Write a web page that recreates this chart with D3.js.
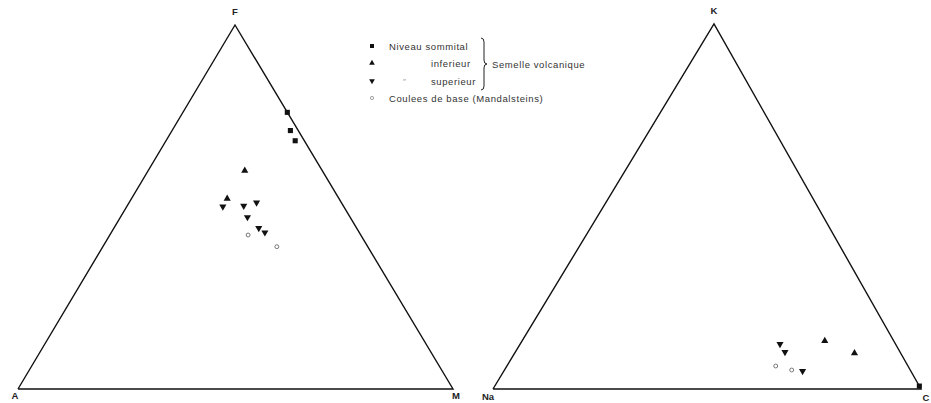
<!DOCTYPE html>
<html><head><meta charset="utf-8">
<script src="https://cdn.jsdelivr.net/npm/d3@7"></script>
<style>body{margin:0;background:#fff}svg{display:block}text{font-family:"Liberation Sans",Arial,sans-serif}</style>
</head><body><svg id="c" width="931" height="403"></svg>
<script>
// Left triangle A-F-M (percent): [A, F, M]
const afmCorners = ["A","M","F"];
const afmSommital = [[0,76,24],[1.8,71,27.2],[2.1,68.2,29.7]];
const afmInferieur = [[17.8,60,22.2],[25.7,52.3,22]];
const afmSuperieur = [[27.8,50.1,22.1],[22.9,50.3,26.8],[19.5,51.2,29.3],[23.6,47.2,29.2],[22.5,44.2,33.3],[21.7,43,35.3]];
const afmCoulees = [[20.9,39.1,40],[25.9,42.3,31.8]];
// Right triangle Na-K-C (percent): [Na, K, C]
const nkcCorners = ["Na","C","K"];
const nkcSommital = [[0,0.8,99.2]];
const nkcInferieur = [[16.1,13.2,70.7],[10.8,9.8,79.4]];
const nkcSuperieur = [[27,12.3,60.7],[26.9,10.1,63],[25.3,4.9,69.8]];
const nkcCoulees = [[30.9,6.3,62.8],[27.7,5.2,67.1]];
// Legend
const legendLabels = ["Niveau sommital","inferieur","superieur","Coulees de base (Mandalsteins)"];
const groupLabel = "Semelle volcanique";

const svg = d3.select("#c");

function ternary(cfg){
  const xs = d3.scaleLinear().domain([0,1]).range([cfg.x0,cfg.x1]);
  const ys = d3.scaleLinear().domain([0,1]).range([cfg.yBase,cfg.yApex]);
  const proj = d => { const s=d[0]+d[1]+d[2]; const top=d[1]/s, right=d[2]/s; return [xs(right+top*cfg.apexU), ys(top)]; };
  const g = svg.append("g");
  const corners = [[100,0,0],[0,0,100],[0,100,0]];
  g.append("path").attr("d", d3.line()(corners.map(proj).concat([proj(corners[0])])))
    .attr("fill","none").attr("stroke","#111").attr("stroke-width",1.4);
  const lp = corners.map(proj);
  lp.forEach((p,i)=>{
    g.append("text").attr("x",p[0]+cfg.lo[i][0]).attr("y",p[1]+cfg.lo[i][1]).text(cfg.names[i])
      .attr("text-anchor","middle").attr("font-size",9.5).attr("font-weight","bold").attr("fill","#222");
  });
  const sym = (data, type, size, style) => {
    g.selectAll(null).data(data).join("path")
      .attr("transform", d => { const p=proj(d); return `translate(${p[0]},${p[1]})` + (type==="down"?" rotate(180)":""); })
      .attr("d", d3.symbol().type(type==="square"?d3.symbolSquare:type==="circle"?d3.symbolCircle:d3.symbolTriangle).size(size))
      .attr("fill", style.fill).attr("stroke", style.stroke||"none").attr("stroke-width", style.sw||0);
  };
  sym(cfg.sommital,"square",26,{fill:"#111"});
  sym(cfg.inferieur,"up",22,{fill:"#111"});
  sym(cfg.superieur,"down",22,{fill:"#111"});
  sym(cfg.coulees,"circle",12,{fill:"none",stroke:"#777",sw:1});
}

ternary({x0:18,x1:453,apexU:(235-18)/435,yBase:389,yApex:25,names:afmCorners,
  lo:[[-3,10],[3,10],[0,-10]],
  sommital:afmSommital,inferieur:afmInferieur,superieur:afmSuperieur,coulees:afmCoulees});
ternary({x0:493,x1:921,apexU:(714-493)/428,yBase:389,yApex:24,names:nkcCorners,
  lo:[[-5,11],[5,12],[0,-10]],
  sommital:nkcSommital,inferieur:nkcInferieur,superieur:nkcSuperieur,coulees:nkcCoulees});

// legend
const lg = svg.append("g");
const rowY = [46,63,81,98];
const lx = 372;
lg.append("path").attr("transform",`translate(${lx},${rowY[0]})`).attr("d",d3.symbol().type(d3.symbolSquare).size(16)).attr("fill","#111");
lg.append("path").attr("transform",`translate(${lx},${rowY[1]})`).attr("d",d3.symbol().type(d3.symbolTriangle).size(14)).attr("fill","#111");
lg.append("path").attr("transform",`translate(${lx},${rowY[2]}) rotate(180)`).attr("d",d3.symbol().type(d3.symbolTriangle).size(14)).attr("fill","#111");
lg.append("path").attr("transform",`translate(${lx},${rowY[3]})`).attr("d",d3.symbol().type(d3.symbolCircle).size(8)).attr("fill","none").attr("stroke","#888").attr("stroke-width",0.8);
const tx = [389,431,431,389];
legendLabels.forEach((t,i)=>{
  lg.append("text").attr("x",tx[i]).attr("y",rowY[i]+3.5).text(t).attr("font-size",9.5).attr("letter-spacing",0.6).attr("fill","#333");
});
lg.append("text").attr("x",403).attr("y",rowY[2]+3).text("″").attr("font-size",8).attr("fill","#999");
// brace
const bx = 484, bt = rowY[0]-8, bb = rowY[2]+9, bm = rowY[1]+1;
const bp = d3.path();
bp.moveTo(bx-3,bt); bp.quadraticCurveTo(bx,bt,bx,bt+4); bp.lineTo(bx,bm-4); bp.quadraticCurveTo(bx,bm,bx+3,bm);
bp.quadraticCurveTo(bx,bm,bx,bm+4); bp.lineTo(bx,bb-4); bp.quadraticCurveTo(bx,bb,bx-3,bb);
lg.append("path").attr("d",bp.toString()).attr("fill","none").attr("stroke","#222").attr("stroke-width",1);
lg.append("text").attr("x",492).attr("y",bm+3.5).text(groupLabel).attr("font-size",9.5).attr("letter-spacing",0.6).attr("fill","#333");
</script></body></html>
